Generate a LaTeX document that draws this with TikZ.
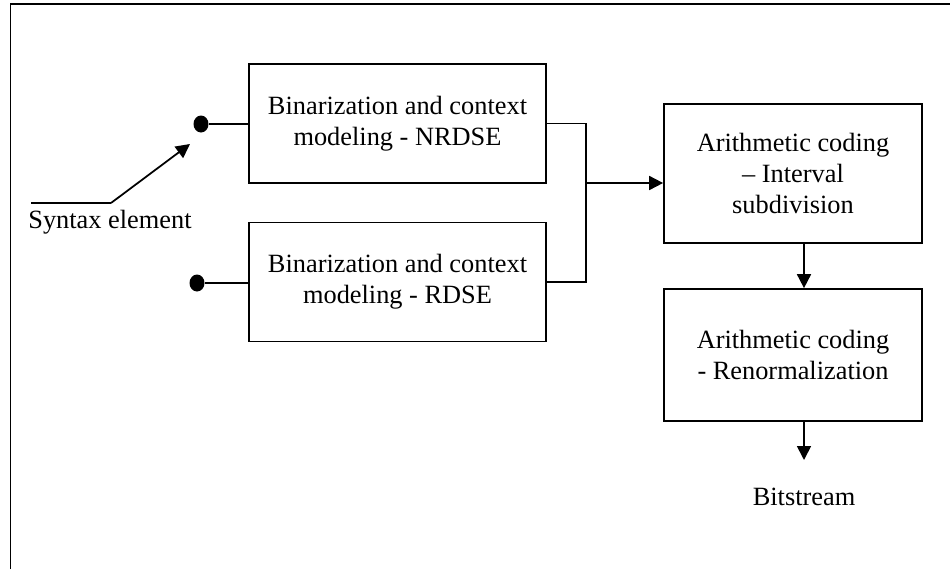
\documentclass[tikz,border=0pt]{standalone}
\usepackage{fontspec}
\setmainfont{Liberation Serif}
\usetikzlibrary{arrows.meta,shapes.geometric}

\tikzset{
    box/.style={draw, line width=1pt, align=center, inner sep=0pt},
    pin/.style={ellipse, fill=black, inner sep=0pt, minimum width=0.3cm, minimum height=0.34cm},
    wire/.style={line width=1pt},
    flow/.style={line width=1pt, -{Triangle[length=0.28cm,width=0.28cm]}}
}

\begin{document}
\begin{tikzpicture}[x=0.02cm, y=-0.02cm, font=\fontsize{15}{17.5}\selectfont]
        \useasboundingbox (0,0) rectangle (950,569);

        % Frame
        \draw[line width=1pt] (10.5,569) -- (10.5,4) -- (950,4);

        % Binarization blocks
        \node[box, minimum width=5.94cm, minimum height=2.38cm] (nrdse) at (397.5,123.5)
            {Binarization and context\\modeling - NRDSE};
        \node[box, minimum width=5.94cm, minimum height=2.38cm] (rdse) at (397.5,282)
            {Binarization and context\\modeling - RDSE};

        % Switch contacts
        \node[pin] (pa) at (201,124) {};
        \node[pin] (pb) at (197,283) {};
        \draw[wire] (pa) -- (pa -| nrdse.west);
        \draw[wire] (pb) -- (pb -| rdse.west);

        % Input
        \node (syntax) at (110,222) {Syntax element};
        \coordinate (in) at (31,203);
        \coordinate (knee) at (111,203);
        \coordinate (tip) at (190,144);
        \draw[wire] (in) -- (knee);
        \draw[flow] (knee) -- (tip);

        % Arithmetic coding blocks
        \node[box, minimum width=5.16cm, minimum height=2.78cm] (interval) at (793,173.5)
            {Arithmetic coding\\– Interval\\subdivision};
        \node[box, minimum width=5.16cm, minimum height=2.64cm] (renorm) at (793,355)
            {Arithmetic coding\\ - Renormalization};

        % Merge
        \coordinate (join) at (586,183);
        \draw[wire] (nrdse.east) -| (join);
        \draw[wire] (rdse.east) -| (join);
        \draw[flow] (join) -- (join -| interval.west);

        % Output
        \node (bits) at (804,497) {Bitstream};
        \coordinate (out) at (804,460);
        \draw[flow] (interval.south -| bits) -- (renorm.north -| bits);
        \draw[flow] (renorm.south -| bits) -- (out);
\end{tikzpicture}
\end{document}
